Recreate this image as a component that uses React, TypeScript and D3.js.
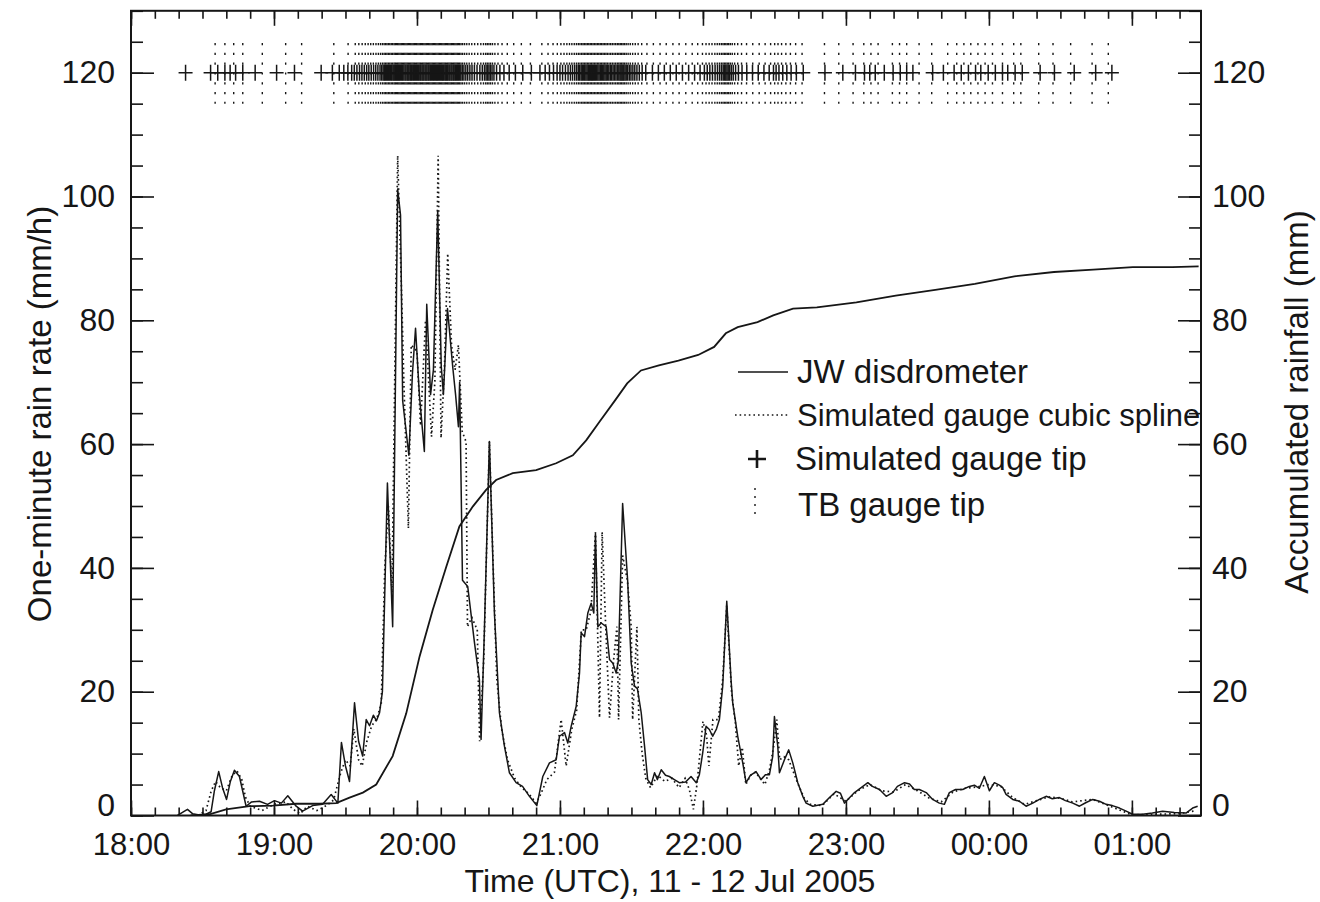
import React, { useRef, useEffect } from "react";
import * as d3 from "d3";

// time is minutes after 18:00 UTC, 11 Jul 2005
const hourLabels = ["18:00", "19:00", "20:00", "21:00", "22:00", "23:00", "00:00", "01:00"];
const rateTicks = [0, 20, 40, 60, 80, 100, 120];

// JW disdrometer one-minute rain rate (mm/h)
const disdrometerRate: [number, number][] = [
  [19.5, 0], [21.6, 0.5], [23.7, 1.0], [25.8, 0.3], [28.7, 0.1], [31.5, 0.2], [33.6, 0.6], [35.0, 4.0],
  [36.8, 7.1], [38.4, 4.5], [40.1, 2.6], [41.7, 5.5], [43.4, 7.3], [45.5, 6.3], [48.3, 1.5], [50.6, 2.2],
  [53.9, 2.3], [57.3, 1.8], [60.2, 2.4], [63.1, 2.0], [65.8, 3.2], [69.3, 1.5], [72.0, 0.7], [76.2, 1.6],
  [80.4, 1.8], [84.0, 3.4], [86.8, 2.0], [88.3, 11.8], [90.0, 8.0], [91.7, 5.5], [93.8, 18.2], [95.5, 12.0],
  [97.2, 9.6], [98.7, 15.5], [100.1, 14.5], [101.7, 16.2], [103.0, 15.3], [104.3, 16.6], [105.5, 20.0],
  [107.6, 53.7], [109.8, 30.5], [111.9, 101.2], [113.1, 97], [114.0, 67], [116.6, 58.2], [118.1, 71.4],
  [119.4, 78.7], [121.0, 68], [123.1, 58.8], [124.1, 82.6], [125.7, 68], [126.9, 72], [128.7, 97.7],
  [130.2, 72.5], [131.1, 68], [132.8, 81.9], [135.0, 72.5], [136.2, 68], [137.4, 62.8], [137.9, 70],
  [139.1, 38], [141.3, 37], [144.1, 28], [146.2, 21.9], [146.9, 12.3], [148.3, 30], [150.4, 60.4],
  [152.5, 32.7], [154.6, 16.6], [156.7, 11.2], [158.8, 6.9], [161.6, 5.3], [164.3, 4.7], [167.2, 3.1],
  [170.3, 1.6], [172.8, 6.3], [175.6, 8.5], [178.4, 9.0], [179.8, 12.8], [181.9, 13.4], [183.3, 11.7],
  [184.7, 14.4], [186.8, 17.6], [188.2, 23.0], [188.9, 29.5], [190.3, 28.9], [191.7, 32.7], [193.1, 34.3],
  [194.2, 32.7], [194.9, 45.6], [195.9, 30.5], [197.3, 31.1], [199.4, 30.5], [200.8, 25.2], [202.2, 24.6],
  [203.6, 23.0], [204.5, 25.0], [206.3, 50.4], [208.4, 38.0], [209.9, 24.6], [211.3, 20.9], [212.5, 20.5],
  [214.1, 16.6], [215.5, 11.2], [216.8, 5.8], [218.3, 5.0], [219.7, 6.9], [220.9, 5.8], [222.5, 7.4],
  [224.3, 6.5], [225.9, 6.3], [228.0, 5.8], [230.1, 5.3], [232.7, 5.4], [235.0, 6.3], [237.2, 5.3],
  [238.5, 6.6], [239.9, 10.1], [241.3, 14.4], [242.7, 13.9], [244.1, 12.8], [245.7, 14.0], [246.9, 15.5],
  [248.3, 20.9], [250.0, 34.6], [251.8, 21.9], [252.5, 18.2], [254.6, 12.8], [256.7, 8.5], [258.1, 5.3],
  [259.9, 6.5], [262.3, 7.1], [264.4, 5.8], [266.2, 6.6], [267.9, 6.6], [269.3, 9.6], [270.0, 16.0],
  [271.4, 11.2], [272.1, 6.9], [274.2, 9.0], [276.0, 10.6], [277.7, 8.5], [279.8, 5.3], [281.9, 3.1],
  [283.3, 2.0], [286.1, 1.5], [290.3, 1.8], [293.1, 2.9], [295.9, 3.9], [297.7, 3.6], [299.4, 2.0],
  [300.8, 2.6], [303.6, 3.7], [306.4, 4.5], [309.2, 5.3], [311.1, 4.7], [314.1, 4.2], [316.9, 3.1],
  [319.6, 3.7], [321.6, 4.7], [324.6, 5.3], [326.7, 5.1], [328.7, 4.2], [330.8, 4.2], [333.7, 3.7],
  [336.4, 2.6], [339.2, 2.0], [341.3, 1.8], [343.4, 3.7], [346.0, 4.2], [349.0, 4.2], [351.8, 4.7],
  [353.9, 4.9], [356.0, 4.4], [358.1, 6.3], [360.2, 4.0], [362.3, 5.3], [364.4, 4.9], [365.8, 4.5],
  [367.2, 3.4], [370.0, 2.6], [372.8, 2.3], [375.6, 1.5], [378.4, 2.0], [381.2, 2.6], [384.0, 3.1],
  [386.6, 2.7], [389.6, 2.9], [392.1, 2.4], [395.2, 2.0], [398.0, 1.5], [400.8, 2.1], [403.6, 2.6],
  [406.4, 2.3], [409.2, 1.8], [411.8, 1.6], [414.8, 1.2], [417.6, 0.7], [420.3, 0.2], [424.5, 0.2],
  [428.6, 0.4], [432.9, 0.7], [437.8, 0.5], [442.7, 0.4], [445.5, 1.2], [447.6, 1.5],
];

// simulated gauge, cubic spline of the tips (mm/h)
const splineRate: [number, number][] = [
  [28.0, 0], [31.5, 0.8], [33.6, 3.9], [35.5, 5.5], [37.5, 4.5], [40.0, 4.0], [42.5, 6.5], [44.5, 7.2],
  [46.5, 5.8], [48.0, 3.0], [50.0, 1.5], [55.0, 0.8], [60.0, 1.8], [65.0, 2.2], [68.0, 1.0], [71.0, 0.3],
  [74.0, 1.5], [78.0, 0.8], [82.0, 1.6], [85.0, 2.5], [88.0, 6.9], [90.0, 9.0], [92.0, 8.0], [93.5, 14.0],
  [95.5, 9.0], [97.0, 8.0], [99.0, 12.0], [101.0, 14.5], [103.0, 15.5], [105.0, 18.0], [106.5, 40.0],
  [108.0, 50.0], [109.5, 36.0], [111.9, 106.6], [113.5, 85.0], [114.5, 70.0], [116.4, 46.4], [117.6, 76.0],
  [120.0, 75.0], [121.5, 63.0], [123.6, 80.0], [126.1, 61.2], [127.5, 70.0], [128.9, 106.6], [130.1, 61.0],
  [131.5, 72.0], [132.9, 90.8], [134.5, 76.0], [136.0, 72.0], [137.4, 76.0], [139.0, 62.0], [140.6, 60.4],
  [141.2, 30.5], [143.0, 32.0], [145.3, 30.0], [146.3, 12.0], [148.0, 25.0], [150.4, 60.4], [152.0, 40.0],
  [153.5, 22.0], [155.5, 14.0], [158.0, 9.0], [161.0, 6.0], [164.0, 4.5], [167.0, 3.5], [170.0, 2.0],
  [172.0, 3.5], [174.5, 5.8], [177.7, 7.0], [180.5, 15.5], [182.6, 8.0], [185.0, 14.0], [187.0, 17.0],
  [189.0, 30.0], [191.0, 30.0], [193.0, 33.0], [194.9, 45.8], [196.6, 15.8], [197.7, 45.8], [199.2, 30.5],
  [200.8, 15.8], [202.5, 25.0], [203.9, 30.5], [204.6, 15.5], [206.3, 42.0], [208.3, 38.0], [209.9, 30.5],
  [210.5, 15.5], [212.3, 30.5], [213.1, 15.5], [214.5, 10.0], [216.0, 6.0], [218.0, 4.5], [221.0, 6.5],
  [224.0, 5.5], [227.0, 6.0], [230.0, 4.5], [232.5, 6.0], [234.3, 4.2], [236.0, 1.0], [237.5, 5.0],
  [240.0, 15.2], [241.5, 13.0], [242.5, 8.0], [244.2, 15.5], [246.5, 15.5], [248.3, 22.0], [250.0, 34.0],
  [252.0, 20.0], [253.6, 15.0], [255.0, 8.0], [256.5, 11.0], [258.0, 5.0], [260.0, 6.5], [262.0, 7.0],
  [264.0, 6.0], [266.0, 5.0], [268.0, 7.5], [269.6, 11.0], [271.0, 15.5], [272.2, 9.0], [274.0, 9.5],
  [276.0, 9.0], [278.0, 7.0], [280.0, 5.0], [282.5, 2.8], [285.0, 1.8], [290.0, 1.6], [295.0, 3.5],
  [300.0, 2.3], [305.0, 4.0], [310.0, 5.0], [315.0, 4.0], [320.0, 3.8], [325.0, 5.0], [330.0, 4.0],
  [335.0, 2.8], [340.0, 2.2], [345.0, 3.8], [350.0, 4.4], [355.0, 4.6], [360.0, 5.0], [365.0, 4.7],
  [370.0, 2.9], [375.0, 1.8], [380.0, 2.4], [385.0, 3.0], [390.0, 2.8], [395.0, 2.2], [403.6, 2.6],
  [420.0, 0.1], [430.0, 0.2], [440.0, 0.3], [447.0, 0.8],
];

// accumulated rainfall from the disdrometer (mm)
const accumulated: [number, number][] = [
  [25.0, 0], [32.9, 0.2], [39.9, 1.0], [49.7, 1.5], [59.5, 1.6], [69.3, 1.9], [79.1, 1.9], [86.1, 2.0],
  [91.7, 2.9], [97.3, 3.7], [102.9, 5.0], [109.8, 9.6], [115.5, 16.5], [121.1, 25.7], [126.6, 33.2],
  [132.3, 40.2], [137.8, 46.7], [143.4, 49.9], [149.0, 52.6], [153.2, 54.2], [160.2, 55.3], [170.0, 55.8],
  [178.4, 56.9], [185.4, 58.2], [191.0, 60.6], [196.6, 63.6], [203.2, 67.1], [208.2, 69.8], [214.0, 71.9],
  [221.5, 72.7], [229.7, 73.5], [238.0, 74.4], [244.7, 75.7], [249.6, 77.9], [254.6, 78.9], [262.9, 79.7],
  [269.5, 80.8], [277.8, 81.9], [287.8, 82.1], [304.4, 82.9], [320.9, 84.0], [337.5, 84.9], [354.1, 85.9],
  [370.7, 87.1], [387.3, 87.8], [403.8, 88.2], [420.4, 88.6], [437.0, 88.6], [448.0, 88.7],
];

// simulated gauge tip times (minutes)
const simTipMinutes = [
  22.9, 33.4, 36.4, 39.4, 41.6, 43.9, 46.9, 52.1, 61.1, 68.6, 79.8,
  84.5, 87.4, 89.3, 91.0, 92.6, 93.7, 94.8, 95.9, 96.9, 97.9, 98.9, 99.8, 100.8, 101.8, 102.7, 103.6, 104.5, 105.2,
  105.8, 106.3, 106.7, 107.2, 107.6, 108.1, 108.5, 109.0, 109.4, 109.9, 110.3, 110.7, 111.1, 111.5, 111.9, 112.3,
  112.7, 113.1, 113.6, 114.0, 114.5, 115.0, 115.4, 115.9, 116.3, 116.7, 117.2, 117.6, 118.0, 118.5, 118.9, 119.4,
  119.8, 120.3, 120.7, 121.2, 121.6, 122.1, 122.5, 122.9, 123.4, 123.8, 124.2, 124.7, 125.1, 125.6, 126.0, 126.5,
  126.9, 127.3, 127.8, 128.2, 128.6, 129.0, 129.5, 129.9, 130.4, 130.8, 131.2, 131.7, 132.1, 132.5, 132.9, 133.4,
  133.8, 134.3, 134.7, 135.2, 135.6, 136.1, 136.5, 137.0, 137.4, 137.9, 138.4, 139.0, 139.7, 140.5, 141.3, 142.2,
  143.1, 144.1, 145.2, 146.4, 147.4, 148.3, 149.0, 149.6, 150.2, 150.8, 151.5, 152.3, 153.4, 154.8, 156.5, 158.7,
  161.3, 164.4, 168.0, 171.6, 173.8, 175.6, 177.3, 178.8, 180.0, 181.1, 182.3, 183.4, 184.4, 185.3, 186.2, 187.0,
  187.7, 188.3, 188.9, 189.4, 189.9, 190.4, 190.9, 191.4, 191.9, 192.3, 192.8, 193.2, 193.6, 194.0, 194.5, 194.9,
  195.4, 195.9, 196.4, 196.9, 197.4, 197.9, 198.4, 198.9, 199.4, 199.9, 200.5, 201.1, 201.7, 202.3, 202.9, 203.5,
  204.1, 204.7, 205.2, 205.6, 206.0, 206.4, 206.8, 207.3, 207.8, 208.4, 209.1, 209.8, 210.6, 211.4, 212.3, 213.3,
  214.5, 216.0, 218.8, 221.3, 223.8, 226.3, 228.8, 231.4, 234.0, 236.5, 238.8, 240.6, 241.8, 242.9, 244.0, 245.1,
  246.1, 247.0, 247.8, 248.5, 249.1, 249.6, 250.1, 250.6, 251.2, 251.9, 252.7, 253.7, 254.9, 256.4, 258.4, 260.8,
  263.2, 265.6, 267.8, 269.6, 270.7, 271.9, 273.5, 275.2, 277.0, 279.2, 282.1,
  291.2, 298.7, 304.0, 307.8, 310.0, 312.3, 316.1, 319.8, 322.8, 325.5, 328.1, 336.4, 340.9, 345.4, 348.4, 351.4,
  354.4, 356.6, 359.7, 362.7, 365.7, 367.9, 371.0, 374.0, 381.5, 387.5, 395.8, 404.8, 411.6,
];

// tipping-bucket gauge tip times (minutes)
const tbTipMinutes = [
  35.3, 39.4, 43.1, 46.9, 55.1, 64.9, 71.6, 85.1, 91.1, 94.1,
  95.6, 97.0, 98.3, 99.5, 100.6, 101.7, 102.8, 103.8, 104.7, 105.5, 106.2, 106.8, 107.4, 108.0, 108.6, 109.2,
  109.8, 110.4, 110.9, 111.4, 111.9, 112.4, 112.9, 113.4, 113.9, 114.4, 114.9, 115.4, 115.9, 116.4, 116.9, 117.4,
  117.9, 118.4, 118.9, 119.4, 119.9, 120.4, 120.9, 121.4, 121.9, 122.4, 122.9, 123.4, 123.9, 124.4, 124.9, 125.4,
  125.9, 126.4, 126.9, 127.4, 127.9, 128.4, 128.9, 129.4, 129.9, 130.4, 130.9, 131.4, 131.9, 132.4, 132.9, 133.4,
  133.9, 134.4, 134.9, 135.4, 135.9, 136.4, 136.9, 137.4, 137.9, 138.5, 139.2, 140.0, 140.9, 141.9, 143.0, 144.2,
  145.5, 146.8, 147.9, 148.8, 149.5, 150.2, 150.9, 151.7, 152.7, 154.0, 155.7, 157.9, 160.6, 163.8, 167.6,
  172.4, 175.0, 177.1, 178.9, 180.4, 181.7, 182.9, 184.0, 185.0, 186.0, 186.9, 187.7, 188.4, 189.1, 189.7, 190.3,
  190.9, 191.5, 192.1, 192.7, 193.3, 193.9, 194.5, 195.1, 195.7, 196.3, 196.9, 197.5, 198.1, 198.7, 199.3, 199.9,
  200.6, 201.3, 202.0, 202.7, 203.4, 204.1, 204.7, 205.3, 205.9, 206.5, 207.1, 207.8, 208.6, 209.5, 210.5, 211.6,
  212.8, 214.3, 216.5, 219.2, 222.0, 224.6, 227.4, 230.0, 232.8, 235.5, 237.8, 239.8, 241.3, 242.6, 243.8, 245.0,
  246.0, 246.9, 247.7, 248.4, 249.0, 249.6, 250.2, 250.8, 251.5, 252.3, 253.3, 254.6, 256.2, 258.3, 260.9, 263.6,
  266.1, 268.4, 270.1, 271.5, 273.0, 274.8, 276.7, 278.9, 281.6,
  291.0, 297.0, 303.0, 307.5, 310.5, 313.5, 319.5, 322.5, 325.5, 330.7, 336.0, 342.7, 346.5, 349.5, 352.4, 355.4,
  358.4, 361.5, 365.7, 370.4, 373.4, 380.9, 386.9, 394.3, 403.3, 410.1,
];

const FONT = "'Liberation Sans', Arial, Helvetica, sans-serif";
const INK = "#161616";

function App() {
  const svgRef = useRef<SVGSVGElement>(null);

  useEffect(() => {
    const width = 1320;
    const height = 902;
    const left = 131, right = 1201, bottom = 815.5;

    const svg = d3.select(svgRef.current).attr("width", width).attr("height", height);
    svg.selectAll("*").remove();
    svg.append("rect").attr("width", width).attr("height", height).attr("fill", "#fff");

    const x = d3.scaleLinear().domain([0, 449]).range([left, right]);
    const y = d3.scaleLinear().domain([0, 130]).range([bottom, bottom - 130 * 6.19]);
    const top = y(130);

    const hourTicks = hourLabels.map((_, i) => i * 60);
    const minorX = d3.range(0, 449, 10);
    const minorY = d3.range(0, 131, 5);

    const styleAxis = (g: any, size: number) => {
      g.select(".domain").remove();
      g.selectAll("line").attr("stroke", INK).attr("stroke-width", 1.6);
      g.selectAll("text").attr("font-family", FONT).attr("font-size", size).attr("fill", INK);
    };

    // bottom axis with hour labels
    svg.append("g").attr("transform", `translate(0,${bottom})`)
      .call(d3.axisBottom(x).tickValues(minorX).tickSize(-8).tickFormat(() => ""))
      .call((g) => styleAxis(g, 0));
    svg.append("g").attr("transform", `translate(0,${bottom})`)
      .call(d3.axisBottom(x).tickValues(hourTicks).tickSize(-15).tickPadding(17)
        .tickFormat((d, i) => hourLabels[i]))
      .call((g) => styleAxis(g, 31));

    // top axis, ticks only
    svg.append("g").attr("transform", `translate(0,${top})`)
      .call(d3.axisTop(x).tickValues(minorX).tickSize(-8).tickFormat(() => ""))
      .call((g) => styleAxis(g, 0));
    svg.append("g").attr("transform", `translate(0,${top})`)
      .call(d3.axisTop(x).tickValues(hourTicks).tickSize(-15).tickFormat(() => ""))
      .call((g) => styleAxis(g, 0));

    // left axis: rain rate
    svg.append("g").attr("transform", `translate(${left},0)`)
      .call(d3.axisLeft(y).tickValues(minorY).tickSize(-12).tickFormat(() => ""))
      .call((g) => styleAxis(g, 0));
    const leftAxis = svg.append("g").attr("transform", `translate(${left},0)`)
      .call(d3.axisLeft(y).tickValues(rateTicks).tickSize(-23).tickPadding(16).tickFormat(d3.format("d")))
      .call((g) => styleAxis(g, 32));

    // right axis: accumulated rainfall
    svg.append("g").attr("transform", `translate(${right},0)`)
      .call(d3.axisRight(y).tickValues(minorY).tickSize(-12).tickFormat(() => ""))
      .call((g) => styleAxis(g, 0));
    const rightAxis = svg.append("g").attr("transform", `translate(${right},0)`)
      .call(d3.axisRight(y).tickValues(rateTicks).tickSize(-23).tickPadding(11).tickFormat(d3.format("d")))
      .call((g) => styleAxis(g, 32));

    // the zero labels sit a little above the corner
    [leftAxis, rightAxis].forEach((a) =>
      a.selectAll(".tick text").filter((d: any) => d === 0).attr("dy", "0.0em"));

    // frame
    svg.append("rect")
      .attr("x", left).attr("y", top)
      .attr("width", right - left).attr("height", bottom - top)
      .attr("fill", "none").attr("stroke", INK).attr("stroke-width", 2);

    svg.append("clipPath").attr("id", "plot-clip")
      .append("rect").attr("x", left).attr("y", top)
      .attr("width", right - left).attr("height", bottom - top);

    const plot = svg.append("g").attr("clip-path", "url(#plot-clip)");

    const line = d3.line<[number, number]>()
      .x((d) => x(d[0]))
      .y((d) => y(d[1]));

    plot.append("path").datum(accumulated)
      .attr("d", line).attr("fill", "none")
      .attr("stroke", INK).attr("stroke-width", 1.8);

    plot.append("path").datum(splineRate)
      .attr("d", line).attr("fill", "none")
      .attr("stroke", INK).attr("stroke-width", 1.7)
      .attr("stroke-dasharray", "1.6 3");

    plot.append("path").datum(disdrometerRate)
      .attr("d", line).attr("fill", "none")
      .attr("stroke", INK).attr("stroke-width", 1.5)
      .attr("stroke-linejoin", "round");

    // tipping-bucket gauge tips: dotted vertical strokes around 120
    plot.selectAll(".tb").data(tbTipMinutes).enter()
      .append("line").attr("class", "tb")
      .attr("x1", (d) => x(d)).attr("x2", (d) => x(d))
      .attr("y1", y(124.8)).attr("y2", y(115))
      .attr("stroke", INK).attr("stroke-width", 1.4)
      .attr("stroke-dasharray", "2.2 7.6");

    // simulated gauge tips: plus signs at 120
    plot.selectAll(".tip").data(simTipMinutes).enter()
      .append("path").attr("class", "tip")
      .attr("transform", (d) => `translate(${x(d)},${y(120)})`)
      .attr("d", "M-7,0H7M0,-8V8")
      .attr("fill", "none").attr("stroke", INK).attr("stroke-width", 1.5);

    // legend
    const legend = svg.append("g").attr("font-family", FONT).attr("fill", INK);
    legend.append("line").attr("x1", 738).attr("x2", 788).attr("y1", 372).attr("y2", 372)
      .attr("stroke", INK).attr("stroke-width", 1.5);
    legend.append("text").attr("x", 797).attr("y", 383).attr("font-size", 33).text("JW disdrometer");
    legend.append("line").attr("x1", 735).attr("x2", 788).attr("y1", 415).attr("y2", 415)
      .attr("stroke", INK).attr("stroke-width", 1.6).attr("stroke-dasharray", "1.6 3");
    legend.append("text").attr("x", 797).attr("y", 426).attr("font-size", 31).text("Simulated gauge cubic spline");
    legend.append("path").attr("transform", "translate(757,459)")
      .attr("d", "M-9,0H9M0,-9V9").attr("stroke", INK).attr("stroke-width", 2.6).attr("fill", "none");
    legend.append("text").attr("x", 795).attr("y", 470).attr("font-size", 33).text("Simulated gauge tip");
    legend.append("line").attr("x1", 755).attr("x2", 755).attr("y1", 488).attr("y2", 519)
      .attr("stroke", INK).attr("stroke-width", 1.4).attr("stroke-dasharray", "2 6");
    legend.append("text").attr("x", 798).attr("y", 516).attr("font-size", 33).text("TB gauge tip");

    // axis titles
    svg.append("text")
      .attr("x", 670).attr("y", 892)
      .attr("text-anchor", "middle")
      .attr("font-family", FONT).attr("font-size", 32).attr("fill", INK)
      .text("Time (UTC), 11 - 12 Jul 2005");

    svg.append("text")
      .attr("transform", "translate(51,414) rotate(-90)")
      .attr("text-anchor", "middle")
      .attr("font-family", FONT).attr("font-size", 33).attr("fill", INK)
      .text("One-minute rain rate (mm/h)");

    svg.append("text")
      .attr("transform", "translate(1308,402) rotate(-90)")
      .attr("text-anchor", "middle")
      .attr("font-family", FONT).attr("font-size", 33).attr("fill", INK)
      .text("Accumulated rainfall (mm)");
  }, []);

  return (
    <svg ref={svgRef} style={{ position: "absolute", left: 0, top: 0, display: "block" }}></svg>
  );
}

export default App;
